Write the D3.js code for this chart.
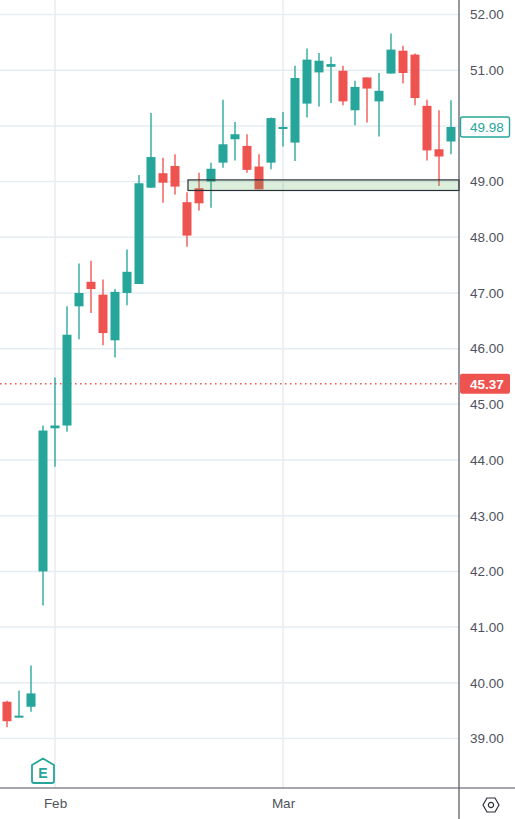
<!DOCTYPE html>
<html lang="en">
<head>
    <meta charset="UTF-8">
    <title>Candlestick chart</title>
    <style>
        html, body { margin: 0; padding: 0; background: #fff; overflow: hidden; }
        svg { display: block; font-family: "Liberation Sans", Arial, sans-serif; }
        .domain { display: none; }
        .tick line { display: none; }
        .tick text { fill: #50535e; font-size: 13.5px; }
    </style>
    <script src="https://d3js.org/d3.v7.min.js"></script>
</head>
<body>
    <svg width="515" height="819"></svg>
    <script>
        // prices, one entry per trading day
        const opens  = [39.66, 39.38, 39.57, 42.00, 44.57, 44.62, 46.76, 47.20, 46.97, 46.15, 47.00, 47.16, 48.89,
                        49.15, 49.28, 48.63, 48.88, 49.00, 49.34, 49.76, 49.64, 49.27, 49.34, 49.96, 49.70, 50.40,
                        50.96, 51.06, 50.99, 50.28, 50.87, 50.44, 50.94, 51.35, 51.28, 50.36, 49.58, 49.72];
        const highs  = [39.68, 39.86, 40.31, 44.62, 45.48, 46.76, 47.53, 47.58, 47.24, 47.07, 47.78, 49.12, 50.23,
                        49.43, 49.49, 48.81, 49.16, 49.34, 50.47, 50.07, 49.85, 49.49, 50.15, 50.25, 51.08, 51.39,
                        51.31, 51.24, 51.08, 50.81, 50.87, 50.95, 51.66, 51.44, 51.30, 50.47, 50.28, 50.46];
        const lows   = [39.20, 39.38, 39.48, 41.39, 43.88, 44.51, 46.17, 46.64, 46.06, 45.84, 46.78, 47.16, 48.89,
                        48.62, 48.77, 47.83, 48.48, 48.53, 49.25, 49.38, 49.16, 48.86, 49.22, 49.63, 49.37, 50.15,
                        50.35, 50.41, 50.37, 50.01, 50.06, 49.81, 50.94, 50.76, 50.37, 49.38, 48.92, 49.49];
        const closes = [39.31, 39.41, 39.81, 44.53, 44.62, 46.25, 47.00, 47.07, 46.28, 47.02, 47.38, 48.97, 49.44,
                        48.98, 48.91, 48.03, 48.61, 49.23, 49.67, 49.85, 49.21, 48.86, 50.14, 49.98, 50.86, 51.19,
                        51.17, 51.11, 50.44, 50.70, 50.67, 50.63, 51.37, 50.95, 50.50, 49.56, 49.45, 49.98];

        const priceTicks = [39, 40, 41, 42, 43, 44, 45, 46, 47, 48, 49, 50, 51, 52];
        const monthIndex = [4, 23];
        const monthLabels = ["Feb", "Mar"];

        const earningsIndex = 3;
        const zoneStartIndex = 15;
        const zoneTop = 49.03;
        const zoneBottom = 48.84;
        const lastPrice = 49.98;
        const linePrice = 45.37;

        const UP = "#26a69a", DOWN = "#ef5350", GRID = "#e6edf2", AXIS = "#50535e";
        const plotRight = 459, plotBottom = 788;

        const svg = d3.select("svg");
        const x = d3.scaleLinear().domain([0, 37]).range([7, 451]);
        const y = d3.scaleLinear().domain([39, 52]).range([738.5, 14.5]);

        // grid
        svg.append("g").selectAll("line").data(priceTicks).enter().append("line")
            .attr("x1", 0).attr("x2", plotRight)
            .attr("y1", d => y(d)).attr("y2", d => y(d))
            .attr("stroke", GRID).attr("stroke-width", 1.5);
        svg.append("g").selectAll("line").data(monthIndex).enter().append("line")
            .attr("x1", d => x(d)).attr("x2", d => x(d))
            .attr("y1", 0).attr("y2", plotBottom)
            .attr("stroke", GRID).attr("stroke-width", 1.5);

        // dotted price line
        svg.append("line")
            .attr("x1", 0).attr("x2", plotRight)
            .attr("y1", y(linePrice)).attr("y2", y(linePrice))
            .attr("stroke", DOWN).attr("stroke-width", 1.4).attr("stroke-dasharray", "1.5 3.5");

        // candles
        const candles = svg.append("g").selectAll("g").data(d3.range(opens.length)).enter().append("g");
        const colorOf = i => closes[i] >= opens[i] ? UP : DOWN;
        candles.append("line")
            .attr("x1", i => x(i)).attr("x2", i => x(i))
            .attr("y1", i => y(highs[i])).attr("y2", i => y(lows[i]))
            .attr("stroke", colorOf).attr("stroke-width", 1.6).attr("stroke-opacity", 0.85);
        candles.append("rect")
            .attr("x", i => x(i) - 4.5).attr("width", 9)
            .attr("y", i => y(Math.max(opens[i], closes[i])))
            .attr("height", i => Math.max(2, Math.abs(y(opens[i]) - y(closes[i]))))
            .attr("fill", colorOf);

        // green zone
        svg.append("rect")
            .attr("x", x(zoneStartIndex) + 1).attr("width", plotRight - x(zoneStartIndex) - 1)
            .attr("y", y(zoneTop)).attr("height", y(zoneBottom) - y(zoneTop))
            .attr("fill", "#4caf50").attr("fill-opacity", 0.2)
            .attr("stroke", "#2a2e39").attr("stroke-width", 1.2);

        // earnings marker
        const e = svg.append("g").attr("transform", `translate(${x(earningsIndex)},771)`);
        e.append("path")
            .attr("d", "M-11,-6 L0,-12.5 L11,-6 L11,10 Q11,12 9,12 L-9,12 Q-11,12 -11,10 Z")
            .attr("fill", "#fff").attr("stroke", UP).attr("stroke-width", 1.8).attr("stroke-linejoin", "round");
        e.append("text").attr("text-anchor", "middle").attr("y", 6.5)
            .attr("font-size", 14).attr("font-weight", "bold").attr("fill", UP).text("E");

        // axes
        svg.append("g").attr("transform", `translate(${plotRight},0)`)
            .call(d3.axisRight(y).tickValues(priceTicks).tickFormat(d3.format(".2f")).tickSize(0).tickPadding(11));
        svg.append("g").attr("transform", `translate(0,${plotBottom})`)
            .call(d3.axisBottom(x).tickValues(monthIndex).tickFormat((d, i) => monthLabels[i]).tickSize(0).tickPadding(10));

        svg.append("line").attr("x1", plotRight).attr("x2", plotRight).attr("y1", 0).attr("y2", 819)
            .attr("stroke", AXIS).attr("stroke-width", 1.2);
        svg.append("line").attr("x1", 0).attr("x2", 515).attr("y1", plotBottom).attr("y2", plotBottom)
            .attr("stroke", AXIS).attr("stroke-width", 1.2);

        // price labels on the axis
        svg.append("rect").attr("x", 460.5).attr("y", y(lastPrice) - 10).attr("width", 49).attr("height", 20).attr("rx", 2)
            .attr("fill", "#fff").attr("stroke", UP).attr("stroke-width", 1.4);
        svg.append("text").attr("x", 470).attr("y", y(lastPrice) + 5)
            .attr("font-size", 13.5).attr("fill", UP).text(d3.format(".2f")(lastPrice));
        svg.append("rect").attr("x", 460).attr("y", y(linePrice) - 10).attr("width", 50).attr("height", 20).attr("rx", 2)
            .attr("fill", DOWN);
        svg.append("text").attr("x", 470).attr("y", y(linePrice) + 5)
            .attr("font-size", 13.5).attr("font-weight", "bold").attr("fill", "#fff").text(d3.format(".2f")(linePrice));

        // settings hexagon
        const hex = svg.append("g").attr("transform", "translate(491,805)");
        hex.append("path").attr("d", "M-8,0 L-4,-7 L4,-7 L8,0 L4,7 L-4,7 Z")
            .attr("fill", "none").attr("stroke", "#2a2e39").attr("stroke-width", 1.2);
        hex.append("circle").attr("r", 2.6).attr("fill", "none").attr("stroke", "#2a2e39").attr("stroke-width", 1.2);
    </script>
</body>
</html>
